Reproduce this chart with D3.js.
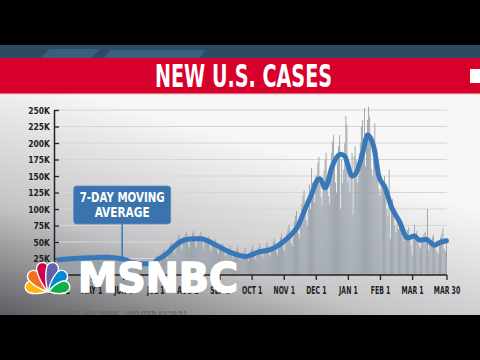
<!DOCTYPE html>
<html>
<head>
<meta charset="utf-8">
<script src="https://cdn.jsdelivr.net/npm/d3@7"></script>
<style>
body { margin: 0; background: #000; overflow: hidden; }
</style>
</head>
<body>
<script>
// daily new cases in thousands, one row per week, first day Wed Apr 1 2020
let dailyStart = "2020-04-01";
let dailyCases = [
    25, 27, 29, 24, 19, 17, 22,
    26, 28, 30, 25, 20, 18, 23,
    27, 29, 31, 26, 20, 18, 24,
    27, 30, 32, 26, 21, 19, 25,
    28, 30, 32, 27, 21, 19, 25,
    28, 31, 33, 27, 22, 19, 26,
    28, 30, 32, 27, 36, 19, 25,
    27, 29, 31, 26, 20, 18, 24,
    24, 26, 28, 23, 18, 17, 22,
    21, 23, 24, 20, 16, 14, 19,
    19, 21, 22, 18, 14, 13, 17,
    18, 20, 21, 17, 14, 12, 16,
    20, 22, 23, 19, 15, 14, 18,
    25, 28, 29, 20, 19, 17, 23,
    34, 37, 39, 32, 26, 23, 30,
    43, 47, 50, 41, 33, 30, 39,
    53, 58, 61, 50, 40, 36, 48,
    57, 62, 66, 54, 43, 39, 51,
    58, 63, 67, 55, 44, 40, 52,
    56, 61, 65, 53, 42, 38, 50,
    50, 55, 59, 48, 38, 35, 46,
    45, 49, 54, 43, 34, 31, 41,
    40, 44, 48, 38, 30, 27, 30,
    36, 40, 45, 34, 27, 24, 32,
    33, 38, 43, 31, 25, 22, 29,
    31, 36, 41, 30, 24, 21, 28,
    34, 39, 45, 32, 26, 23, 30,
    37, 42, 48, 35, 28, 25, 33,
    39, 45, 50, 38, 30, 27, 36,
    44, 50, 55, 42, 34, 30, 40,
    51, 57, 63, 49, 39, 35, 47,
    63, 70, 76, 60, 48, 43, 57,
    81, 90, 97, 77, 62, 55, 73,
    108, 120, 128, 103, 82, 74, 98,
    137, 100, 162, 140, 120, 110, 150,
    152, 170, 179, 150, 118, 105, 140,
    158, 175, 185, 150, 120, 108, 145,
    185, 202, 212, 175, 140, 125, 170,
    195, 212, 100, 175, 140, 160, 200,
    241, 228, 140, 150, 125, 150, 185,
    91, 180, 195, 175, 140, 150, 185,
    200, 225, 235, 205, 253, 165, 200,
    235, 255, 240, 200, 160, 150, 175,
    230, 185, 190, 165, 130, 120, 150,
    135, 140, 150, 125, 100, 90, 160,
    55, 110, 115, 95, 75, 65, 85,
    70, 78, 85, 72, 57, 52, 68,
    63, 68, 72, 58, 46, 30, 55,
    76, 63, 67, 55, 44, 40, 52,
    57, 62, 65, 52, 100, 38, 50,
    53, 58, 61, 49, 39, 35, 33,
    52, 57, 62, 71, 40, 36, 55
];

// 7-day moving average (thousands)
let avgDates = [
    "2020-04-01", "2020-04-15", "2020-05-01", "2020-05-15", "2020-06-01",
    "2020-06-08", "2020-06-20", "2020-06-28", "2020-07-03", "2020-07-12",
    "2020-07-19", "2020-07-29", "2020-08-08", "2020-08-14", "2020-08-29",
    "2020-09-10", "2020-09-26", "2020-09-30", "2020-10-08", "2020-10-18",
    "2020-10-27", "2020-11-06", "2020-11-14", "2020-11-21", "2020-11-27",
    "2020-12-03", "2020-12-05", "2020-12-10", "2020-12-17", "2020-12-25",
    "2020-12-29", "2021-01-05", "2021-01-08", "2021-01-15", "2021-01-20",
    "2021-01-26", "2021-01-31", "2021-02-05", "2021-02-11", "2021-02-18",
    "2021-02-25", "2021-03-03", "2021-03-07", "2021-03-13", "2021-03-16",
    "2021-03-20", "2021-03-24", "2021-03-30"
];
let avgValues = [
    23, 25, 26, 27, 24,
    20, 17, 17, 23, 32,
    43, 53, 55, 55, 45,
    35, 28, 30, 35, 38,
    45, 58, 73, 100, 122,
    145, 146, 132, 165, 183,
    180, 150, 152, 183, 212,
    194, 149, 134, 103, 81,
    56, 59, 53, 54, 50,
    45, 49, 52
];

let tickDates = [
    "2020-04-01", "2020-05-01", "2020-06-01", "2020-07-01", "2020-08-01",
    "2020-09-01", "2020-10-01", "2020-11-01", "2020-12-01", "2021-01-01",
    "2021-02-01", "2021-03-01", "2021-03-30"
];
let tickLabels = [
    "APR 1", "MAY 1", "JUN 1", "JUL 1", "AUG 1", "SEP 1", "OCT 1",
    "NOV 1", "DEC 1", "JAN 1", "FEB 1", "MAR 1", "MAR 30"
];
let yTicks = [25, 50, 75, 100, 125, 150, 175, 200, 225, 250];

let calloutLines = ["7-DAY MOVING", "AVERAGE"];
let calloutDate = "2020-05-31";

function main() {
    let parse = d3.timeParse("%Y-%m-%d");

    let svg = d3.select("body").append("svg")
        .attr("width", 480)
        .attr("height", 360);

    let defs = svg.append("defs");
    let grad = defs.append("linearGradient")
        .attr("id", "bg")
        .attr("x1", 0).attr("y1", 1)
        .attr("x2", 0.5).attr("y2", 0.2);
    grad.append("stop").attr("offset", 0).attr("stop-color", "#5e5e62");
    grad.append("stop").attr("offset", 0.45).attr("stop-color", "#c4c4c6");
    grad.append("stop").attr("offset", 1).attr("stop-color", "#f7f7f7");

    // TV frame
    svg.append("rect").attr("width", 480).attr("height", 360).attr("fill", "#000");
    svg.append("rect").attr("y", 94).attr("width", 480).attr("height", 221)
        .attr("fill", "url(#bg)");
    svg.append("rect").attr("y", 45).attr("width", 480).attr("height", 13)
        .attr("fill", "#2d4a63");
    svg.append("path").attr("d", "M40,58 L50,49 L100,49 L92,58 Z M104,58 L110,50 L205,50 L200,58 Z")
        .attr("fill", "#3b6483").attr("opacity", 0.8);
    svg.append("rect").attr("y", 58).attr("width", 480).attr("height", 36)
        .attr("fill", "#d6002b");
    svg.append("rect").attr("y", 93.5).attr("width", 480).attr("height", 1.2)
        .attr("fill", "#f3d0d6");
    svg.append("rect").attr("x", 470).attr("y", 69).attr("width", 10).attr("height", 14)
        .attr("fill", "#fff");

    svg.append("text")
        .attr("x", 243.5)
        .attr("y", 87)
        .attr("text-anchor", "middle")
        .attr("textLength", 177)
        .attr("lengthAdjust", "spacingAndGlyphs")
        .style("font-family", "DejaVu Sans")
        .style("font-weight", "bold")
        .style("font-size", "32px")
        .attr("fill", "#fff")
        .text("NEW U.S. CASES");

    // scales
    let monthStep = 32.1;
    let xRange = tickDates.map((d, i) => i < tickDates.length - 1 ? 59 + i * monthStep : 446.5);
    let xScale = d3.scaleTime().domain(tickDates.map(parse)).range(xRange);
    let yScale = d3.scaleLinear().domain([0, 250]).range([275, 110]);

    // gridlines
    svg.append("g")
        .selectAll("line")
        .data(yTicks)
        .enter()
        .append("line")
        .attr("x1", 54)
        .attr("x2", 447)
        .attr("y1", d => yScale(d))
        .attr("y2", d => yScale(d))
        .attr("stroke", "#d6d6d6")
        .attr("stroke-width", 1);

    // daily bars
    let start = parse(dailyStart);
    let daily = dailyCases.map((v, i) => ({ date: d3.timeDay.offset(start, i), v: v }));
    svg.append("g")
        .selectAll("rect")
        .data(daily)
        .enter()
        .append("rect")
        .attr("x", d => xScale(d.date) - 0.45)
        .attr("width", 0.9)
        .attr("y", d => yScale(d.v))
        .attr("height", d => yScale(0) - yScale(d.v))
        .attr("fill", "#99a1aa");

    // axes
    let xAxis = d3.axisBottom(xScale)
        .tickValues(tickDates.map(parse))
        .tickFormat((d, i) => tickLabels[i])
        .tickSize(5)
        .tickSizeOuter(0)
        .tickPadding(6);
    let gx = svg.append("g")
        .attr("transform", `translate(0,${yScale(0)})`)
        .call(xAxis);
    gx.select(".domain").remove();
    gx.selectAll("line").attr("stroke", "#222").attr("stroke-width", 1.3);
    gx.selectAll("text")
        .style("font-family", "DejaVu Sans")
        .style("font-weight", "bold")
        .style("font-size", "11px")
        .attr("fill", "#1d1d1d")
        .each(function () {
            let w = this.getComputedTextLength();
            d3.select(this).attr("textLength", w * 0.56).attr("lengthAdjust", "spacingAndGlyphs");
        });

    svg.append("line")
        .attr("x1", 54)
        .attr("x2", 447)
        .attr("y1", yScale(0))
        .attr("y2", yScale(0))
        .attr("stroke", "#222")
        .attr("stroke-width", 1.5);

    let yAxis = d3.axisLeft(yScale)
        .tickValues(yTicks)
        .tickFormat(d => d + "K")
        .tickSize(-5)
        .tickSizeOuter(0)
        .tickPadding(4);
    let gy = svg.append("g")
        .attr("transform", "translate(54,0)")
        .call(yAxis);
    gy.select(".domain").attr("stroke", "#222").attr("stroke-width", 1.5);
    gy.selectAll("line").attr("stroke", "#222").attr("stroke-width", 1.3);
    gy.selectAll("text")
        .style("font-family", "DejaVu Sans")
        .style("font-weight", "bold")
        .style("font-size", "9.5px")
        .attr("fill", "#1d1d1d")
        .each(function () {
            let w = this.getComputedTextLength();
            d3.select(this).attr("textLength", w * 0.8).attr("lengthAdjust", "spacingAndGlyphs");
        });

    // 7-day average line
    let avg = avgDates.map((d, i) => ({ date: parse(d), v: avgValues[i] }));
    let line = d3.line()
        .x(d => xScale(d.date))
        .y(d => yScale(d.v))
        .curve(d3.curveMonotoneX);
    svg.append("path")
        .datum(avg)
        .attr("d", line)
        .attr("fill", "none")
        .attr("stroke", "#3878b8")
        .attr("stroke-width", 5)
        .attr("stroke-linejoin", "round")
        .attr("stroke-linecap", "round");

    // callout
    let cx = xScale(parse(calloutDate));
    let nearest = avg.reduce((a, b) => Math.abs(b.date - parse(calloutDate)) < Math.abs(a.date - parse(calloutDate)) ? b : a);
    svg.append("line")
        .attr("x1", cx).attr("x2", cx)
        .attr("y1", 224).attr("y2", yScale(nearest.v))
        .attr("stroke", "#3a74ae")
        .attr("stroke-width", 1.5);
    svg.append("rect")
        .attr("x", cx - 48.5)
        .attr("y", 186)
        .attr("width", 97)
        .attr("height", 38)
        .attr("rx", 3)
        .attr("fill", "#3a73ae")
        .attr("stroke", "#5a8cc0")
        .attr("stroke-width", 0.8);
    let widths = [85, 55];
    svg.selectAll(".callout")
        .data(calloutLines)
        .enter()
        .append("text")
        .attr("class", "callout")
        .attr("x", cx)
        .attr("y", (d, i) => 202.3 + i * 15)
        .attr("text-anchor", "middle")
        .attr("textLength", (d, i) => widths[i])
        .attr("lengthAdjust", "spacingAndGlyphs")
        .style("font-family", "DejaVu Sans")
        .style("font-weight", "bold")
        .style("font-size", "14px")
        .attr("fill", "#fff")
        .text(d => d);

    // source line (cut off by the frame)
    svg.append("text")
        .attr("x", 53)
        .attr("y", 319)
        .attr("textLength", 134)
        .attr("lengthAdjust", "spacingAndGlyphs")
        .style("font-family", "DejaVu Sans")
        .style("font-weight", "bold")
        .style("font-size", "10px")
        .attr("fill", "#6a6a6a")
        .text("SOURCE: NBC NEWS | UPDATED 03/29/21");
    svg.append("rect").attr("y", 315).attr("width", 480).attr("height", 45).attr("fill", "#000");

    // MSNBC bug
    let feathers = [
        { c: "#fcb711", a: -163, l: 23 },
        { c: "#f37021", a: -132, l: 27 },
        { c: "#cc004c", a: -102, l: 30 },
        { c: "#6460aa", a: -78, l: 30 },
        { c: "#0089d0", a: -48, l: 27 },
        { c: "#0db14b", a: -17, l: 23 }
    ];
    let bug = svg.append("g").attr("transform", "translate(47.5,292)");
    bug.selectAll("path")
        .data(feathers)
        .enter()
        .append("path")
        .attr("d", d => {
            let L = d.l, r = 6;
            return `M1,0 C${L * 0.3},-4 ${L * 0.55},-${r} ${L - r},-${r} A${r},${r} 0 0 1 ${L - r},${r} C${L * 0.55},${r} ${L * 0.3},4 1,0 Z`;
        })
        .attr("transform", d => `rotate(${d.a})`)
        .attr("fill", d => d.c)
        .attr("stroke", "#fff")
        .attr("stroke-width", 1.4);

    svg.append("text")
        .attr("x", 78)
        .attr("y", 292)
        .attr("textLength", 160)
        .attr("lengthAdjust", "spacingAndGlyphs")
        .style("font-family", "DejaVu Sans")
        .style("font-weight", "bold")
        .style("font-size", "40px")
        .attr("fill", "#fff")
        .attr("stroke", "#fff")
        .attr("stroke-width", 1.6)
        .attr("stroke-linejoin", "round")
        .text("MSNBC");
}

main()
</script>
</body>
</html>
